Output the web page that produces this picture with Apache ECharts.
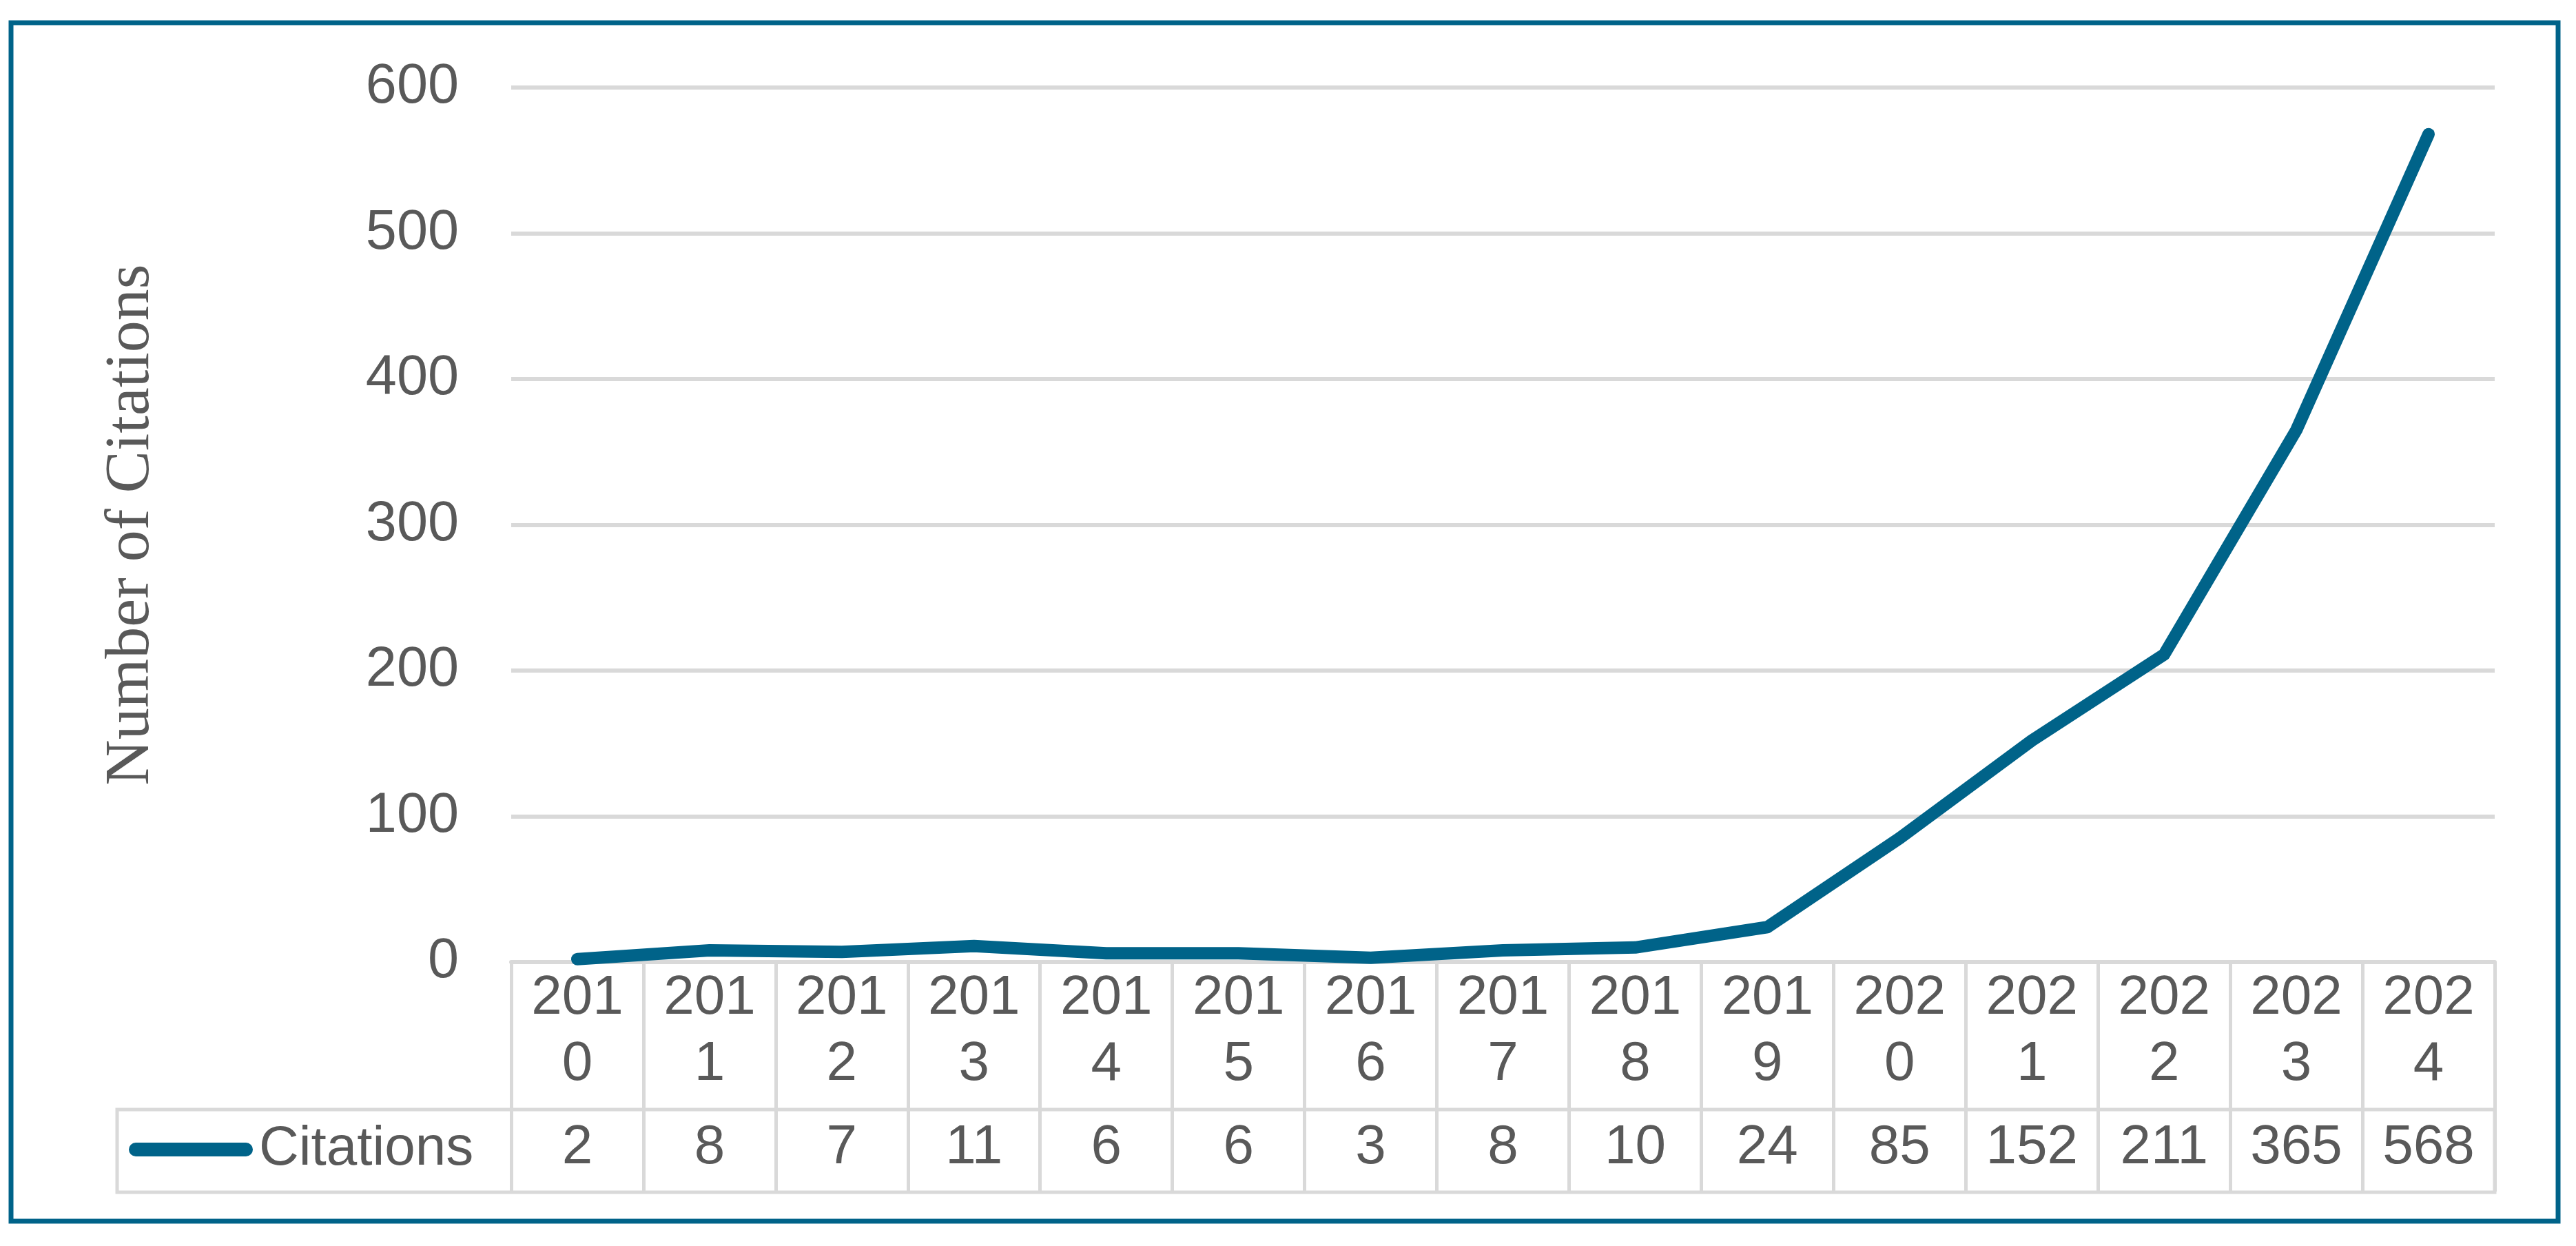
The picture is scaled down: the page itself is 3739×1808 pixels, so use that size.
<!DOCTYPE html>
<html>
<head>
<meta charset="utf-8">
<script src="https://cdn.jsdelivr.net/npm/echarts@6/dist/echarts.min.js"></script>
<style>
html,body{margin:0;padding:0;background:#fff;}
#chart{width:3739px;height:1808px;}
</style>
</head>
<body>
<div id="chart"></div>
<script>
var years = ['2010','2011','2012','2013','2014','2015','2016','2017','2018','2019','2020','2021','2022','2023','2024'];
var citations = [2, 8, 7, 11, 6, 6, 3, 8, 10, 24, 85, 152, 211, 365, 568];
var yTicks = [0, 100, 200, 300, 400, 500, 600];
var seriesName = 'Citations';
var yTitle = 'Number of Citations';

var MAIN = '#006389';
var GRIDC = '#d9d9d9';
var TXT = '#595959';
var SANS = '"Liberation Sans", Arial, sans-serif';
var SERIF = '"Liberation Serif", "Times New Roman", serif';

var chart = echarts.init(document.getElementById('chart'), null, {renderer: 'canvas'});
chart.setOption({
  backgroundColor: '#ffffff',
  animation: false,
  grid: {left: 742, right: 118, top: 127, bottom: 412, containLabel: false},
  legend: {
    data: [seriesName],
    left: 187,
    top: 1628,
    padding: 0,
    itemWidth: 180,
    itemHeight: 20,
    icon: 'path://M10,0 L170,0 A10,10 0 0 1 170,20 L10,20 A10,10 0 0 1 10,0 Z',
    itemStyle: {color: MAIN, borderWidth: 0},
    textStyle: {fontFamily: SANS, fontSize: 80, color: TXT, lineHeight: 80, padding: [0,0,0,4]}
  },
  xAxis: {
    type: 'category',
    data: years,
    boundaryGap: true,
    axisLine: {show: true, lineStyle: {color: GRIDC, width: 6}},
    axisTick: {show: true, length: 333, interval: 0, lineStyle: {color: GRIDC, width: 5}},
    axisLabel: {
      interval: 0,
      margin: 5,
      formatter: function (v, i) {
        return '{y|' + v.slice(0, 3) + '}\n{y|' + v.slice(3) + '}\n{v|' + citations[i] + '}';
      },
      rich: {
        y: {fontFamily: SANS, fontSize: 80, color: TXT, lineHeight: 96, align: 'center'},
        v: {fontFamily: SANS, fontSize: 80, color: TXT, lineHeight: 146, align: 'center'}
      }
    },
    splitLine: {show: false}
  },
  yAxis: {
    type: 'value',
    min: yTicks[0],
    max: yTicks[yTicks.length - 1],
    interval: yTicks[1] - yTicks[0],
    name: yTitle,
    nameLocation: 'middle',
    nameRotate: 90,
    nameGap: 505,
    nameTextStyle: {fontFamily: SERIF, fontSize: 92, color: TXT},
    axisLine: {show: false},
    axisTick: {show: false},
    axisLabel: {fontFamily: SANS, fontSize: 81, color: TXT, margin: 76},
    splitLine: {show: true, lineStyle: {color: GRIDC, width: 6}}
  },
  series: [{
    name: seriesName,
    type: 'line',
    data: citations,
    symbol: 'none',
    lineStyle: {color: MAIN, width: 18, cap: 'round', join: 'round'},
    itemStyle: {color: MAIN}
  }],
  graphic: [
    {type: 'rect', silent: true, z: -1,
      shape: {x: 170, y: 1610, width: 3451, height: 120},
      style: {fill: 'none', stroke: GRIDC, lineWidth: 5}},
    {type: 'rect', silent: true,
      shape: {x: 16, y: 33, width: 3697, height: 1739},
      style: {fill: 'none', stroke: MAIN, lineWidth: 7}}
  ]
});
</script>
</body>
</html>
